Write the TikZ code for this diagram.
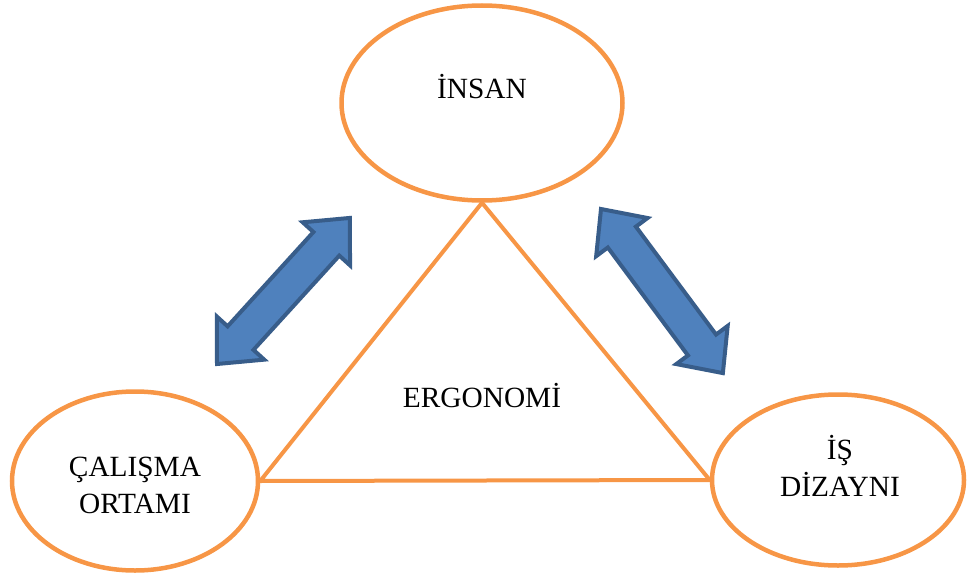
\documentclass[tikz,border=0pt]{standalone}
\usepackage{fontspec}
\setmainfont{Liberation Serif}
\usetikzlibrary{shapes.geometric}

\definecolor{ergorange}{HTML}{F79646}
\definecolor{arrowfill}{HTML}{4F81BD}
\definecolor{arrowline}{HTML}{385D8A}

\tikzset{
  pics/dblarrow/.style={code={
    \draw[arrowline, fill=arrowfill, line width=4*0.02cm, line join=miter]
      (0,0) -- (35,32) -- (35,17.5) -- (#1-35,17.5) -- (#1-35,32) -- (#1,0)
      -- (#1-35,-32) -- (#1-35,-17.5) -- (35,-17.5) -- (35,-32) -- cycle;
  }}
}

\begin{document}
\begin{tikzpicture}[
    x=0.02cm, y=-0.02cm,
    font=\fontsize{16.7}{20.5}\selectfont,
    oval/.style={draw=ergorange, ellipse, line width=4.5*0.02cm, inner sep=0},
    lbl/.style={anchor=base, align=center, inner sep=0},
  ]
  \useasboundingbox (0,0) rectangle (967,581);

  % ellipses
  \node[oval, minimum width=281*0.02cm, minimum height=195*0.02cm] (insan) at (482,103) {};
  \node[oval, minimum width=246*0.02cm, minimum height=179*0.02cm] (calisma) at (135,481) {};
  \node[oval, minimum width=252*0.02cm, minimum height=171*0.02cm] (isdiz) at (838,480) {};

  % labels
  \node[lbl] (insanlbl) at (482,99) {İNSAN};
  \node[lbl] (calismalbl) at (135,513) {ÇALIŞMA\\ORTAMI};
  \node[lbl] (isdizlbl) at (840,496) {İŞ\\DİZAYNI};
  \node[lbl] (ergolbl) at (482,407) {ERGONOMİ};

  % triangle
  \draw[ergorange, line width=4*0.02cm, line join=miter]
    (insan.south) -- (calisma.east) -- (isdiz.west) -- cycle;

  % double arrows
  \coordinate (leftarr) at (217,364);
  \coordinate (rightarr) at (601,209);
  \pic[rotate=47.7] at (leftarr) {dblarrow=197.5};
  \pic[rotate=-53.4] at (rightarr) {dblarrow=204.4};

\end{tikzpicture}
\end{document}
